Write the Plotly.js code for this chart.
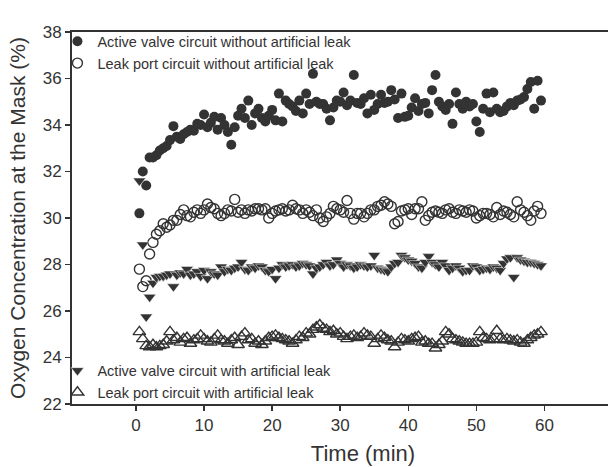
<!DOCTYPE html>
<html>
<head>
<meta charset="utf-8">
<script src="https://cdn.plot.ly/plotly-3.0.1.min.js"></script>
<style>
html, body { margin: 0; padding: 0; overflow: hidden; background: #fff; }
#chart { width: 654px; height: 467px; }
</style>
</head>
<body>
<div id="chart"></div>
<script>
// Time (min)
const times = [
  0.5, 1.0, 1.5, 2.0, 2.5, 3.0, 3.5, 4.0, 4.5, 5.0,
  5.5, 6.0, 6.5, 7.0, 7.5, 8.0, 8.5, 9.0, 9.5, 10.0,
  10.5, 11.0, 11.5, 12.0, 12.5, 13.0, 13.5, 14.0, 14.5, 15.0,
  15.5, 16.0, 16.5, 17.0, 17.5, 18.0, 18.5, 19.0, 19.5, 20.0,
  20.5, 21.0, 21.5, 22.0, 22.5, 23.0, 23.5, 24.0, 24.5, 25.0,
  25.5, 26.0, 26.5, 27.0, 27.5, 28.0, 28.5, 29.0, 29.5, 30.0,
  30.5, 31.0, 31.5, 32.0, 32.5, 33.0, 33.5, 34.0, 34.5, 35.0,
  35.5, 36.0, 36.5, 37.0, 37.5, 38.0, 38.5, 39.0, 39.5, 40.0,
  40.5, 41.0, 41.5, 42.0, 42.5, 43.0, 43.5, 44.0, 44.5, 45.0,
  45.5, 46.0, 46.5, 47.0, 47.5, 48.0, 48.5, 49.0, 49.5, 50.0,
  50.5, 51.0, 51.5, 52.0, 52.5, 53.0, 53.5, 54.0, 54.5, 55.0,
  55.5, 56.0, 56.5, 57.0, 57.5, 58.0, 58.5, 59.0, 59.5
];

// Active valve circuit without artificial leak
const activeNoLeak = [
  30.2, 32.0, 31.4, 32.6, 32.6, 32.7, 32.9, 33.0, 33.1, 33.35,
  33.95, 33.5, 33.4, 33.6, 33.7, 33.8, 33.75, 34.05, 34.0, 34.45,
  33.9, 34.1, 34.35, 33.8, 34.3, 34.0, 33.7, 33.15, 33.9, 34.4,
  34.7, 34.3, 35.05, 34.0, 34.5, 34.7, 34.3, 34.15, 34.4, 34.65,
  34.2, 35.35, 34.15, 35.05, 34.9, 34.8, 34.6, 35.05, 34.5, 35.35,
  34.9, 36.2, 35.0, 34.9, 34.9, 34.7, 34.2, 34.75, 35.05, 35.0,
  35.4, 34.85, 35.05, 36.15, 34.95, 34.9, 35.15, 34.5, 35.3, 34.65,
  34.9, 35.3, 34.95, 35.0, 35.5, 35.1, 34.3, 35.35, 34.35, 34.4,
  34.75, 35.15, 34.6, 34.9, 34.95, 34.5, 35.5, 36.15, 35.0, 34.8,
  34.65, 34.9, 34.05, 35.4, 34.9, 34.7, 35.0, 34.8, 34.9, 34.15,
  33.7, 34.7, 35.35, 34.55, 35.4, 34.7, 34.55, 34.6, 34.8, 34.95,
  34.85, 35.05, 35.1, 35.2, 35.55, 35.85, 34.7, 35.9, 35.05
];

// Leak port circuit without artificial leak
const portNoLeak = [
  27.8, 27.05, 27.3, 28.45, 28.95, 29.3, 29.45, 29.75, 29.6, 29.7,
  29.9, 29.9, 30.15, 30.35, 30.1, 30.05, 30.25, 30.35, 30.2, 30.35,
  30.6, 30.45, 30.4, 30.2, 30.1, 30.2, 30.35, 30.3, 30.8, 30.25,
  30.35, 30.2, 30.35, 30.3, 30.4, 30.4, 30.35, 30.4, 30.0, 30.2,
  30.3, 30.35, 30.4, 30.3, 30.35, 30.55, 30.4, 30.35, 30.2, 30.35,
  30.25, 30.1, 30.35, 30.0, 29.85, 30.05, 30.2, 30.5, 30.4, 30.35,
  30.25, 30.75, 30.2, 29.95, 30.2, 30.2, 30.05, 30.2, 30.35, 30.35,
  30.5, 30.55, 30.7, 30.6, 30.5, 29.75, 29.85, 30.3, 30.35, 30.4,
  30.15, 30.4, 30.4, 30.7, 29.9, 30.1, 30.25, 30.3, 30.25, 30.2,
  30.35, 30.4, 30.25, 30.2, 30.35, 30.3, 30.25, 30.35, 30.3, 30.0,
  30.1, 30.2, 30.2, 30.15, 30.05, 30.45, 30.15, 30.3, 30.25, 30.15,
  30.05, 30.7, 30.35, 30.25, 30.1, 29.9, 30.3, 30.5, 30.2
];

// Active valve circuit with artificial leak
const activeLeak = [
  31.6, 28.85, 25.75, 26.6, 27.2, 27.45, 27.5, 27.5, 27.55, 27.6,
  27.05, 27.55, 27.65, 27.6, 27.8, 27.55, 27.6, 27.7, 27.5, 27.75,
  27.4, 27.7, 27.6, 27.55, 27.9, 27.7, 27.8, 27.75, 27.85, 27.9,
  28.1, 27.8, 27.75, 27.9, 27.85, 27.95, 27.9, 27.75, 27.7, 27.8,
  27.4, 27.85, 28.0, 27.9, 27.95, 28.0, 27.9, 27.95, 28.05, 28.0,
  27.95, 27.6, 27.85, 27.9, 28.0, 28.1, 27.95, 28.0, 28.2, 28.05,
  27.9, 28.0, 27.95, 27.85, 27.9, 28.0, 27.95, 27.9, 27.95, 28.4,
  27.85, 27.8, 27.75, 27.7, 27.9, 28.05, 28.1, 28.4, 28.3, 28.2,
  28.15, 28.05, 27.9, 27.85, 28.1, 28.35, 28.1, 28.0, 27.9, 28.1,
  27.95, 27.75, 27.85, 27.95, 27.85, 27.7, 27.75, 27.75, 27.95, 27.9,
  27.75, 27.8, 27.85, 27.8, 27.9, 27.85, 27.75, 28.05, 28.25, 28.3,
  27.45, 28.3, 28.2, 28.15, 28.1, 28.1, 28.05, 28.0, 27.95
];

// Leak port circuit with artificial leak
const portLeak = [
  25.1, 24.8, 24.5, 24.45, 24.55, 24.45, 24.5, 24.55, 24.7, 25.1,
  24.75, 24.85, 24.65, 24.8, 24.85, 24.6, 24.75, 24.8, 24.95, 24.8,
  24.7, 24.65, 24.8, 24.95, 24.75, 24.7, 24.6, 24.75, 24.85, 24.55,
  24.9, 25.05, 24.75, 24.8, 24.6, 24.7, 24.55, 24.7, 24.85, 24.9,
  24.95, 24.85, 24.8, 24.75, 24.7, 24.6, 24.75, 24.9, 24.85, 25.05,
  25.0, 25.2, 25.3, 25.4, 25.25, 25.2, 25.1, 25.15, 25.0, 25.05,
  24.9, 24.8, 24.9, 24.95, 24.85, 24.9, 25.05, 24.95, 24.9, 24.6,
  24.8, 24.95, 24.85, 24.75, 24.7, 24.45, 24.65, 24.8, 24.75, 24.7,
  24.8, 24.85, 24.9, 24.65, 24.7, 24.6, 24.6, 24.4, 24.55, 24.7,
  25.1, 25.0, 24.8, 24.75, 24.7, 24.65, 24.6, 24.6, 24.6, 24.65,
  25.1, 24.85, 24.8, 24.75, 24.8, 25.15, 24.8, 24.75, 24.8, 24.75,
  24.7, 24.75, 24.65, 24.6, 24.75, 24.85, 24.95, 25.0, 25.1
];

const seriesNames = [
  'Active valve circuit without artificial leak',
  'Leak port circuit without artificial leak',
  'Active valve circuit with artificial leak',
  'Leak port circuit with artificial leak'
];
const xTicks = [0, 10, 20, 30, 40, 50, 60];
const yTicks = [22, 24, 26, 28, 30, 32, 34, 36, 38];
const xTitle = 'Time (min)';
const yTitle = 'Oxygen Concentration at the Mask (%)';

const ink = '#333333';
const fontFam = 'Liberation Sans, Arial, Helvetica, sans-serif';

const traces = [
  { x: times, y: activeNoLeak, name: seriesNames[0], type: 'scatter', mode: 'markers',
    marker: { symbol: 'circle', size: 10, color: ink, line: { width: 0 } }, legend: 'legend' },
  { x: times, y: portNoLeak, name: seriesNames[1], type: 'scatter', mode: 'markers',
    marker: { symbol: 'circle-open', size: 10, color: ink, line: { width: 1.4, color: ink } }, legend: 'legend' },
  { x: times, y: activeLeak, name: seriesNames[2], type: 'scatter', mode: 'markers',
    marker: { symbol: 'triangle-down', size: 11, color: ink, line: { width: 0.5, color: '#ffffff' } }, legend: 'legend2' },
  { x: times, y: portLeak, name: seriesNames[3], type: 'scatter', mode: 'markers',
    marker: { symbol: 'triangle-up-open', size: 11, color: ink, line: { width: 1.4, color: ink } }, legend: 'legend2' }
];

const layout = {
  width: 654, height: 467,
  margin: { l: 72, r: 0, t: 32, b: 63 },
  paper_bgcolor: '#ffffff', plot_bgcolor: '#ffffff',
  font: { family: fontFam, color: ink },
  showlegend: true,
  xaxis: {
    range: [-9.4, 76.1], tickmode: 'array', tickvals: xTicks,
    showgrid: false, zeroline: false,
    showline: true, linecolor: ink, linewidth: 2, mirror: true,
    ticks: 'outside', ticklen: 5, tickwidth: 1.5, tickcolor: ink,
    tickfont: { size: 17, color: ink, family: fontFam },
    title: { text: xTitle, font: { size: 22, color: ink, family: fontFam }, standoff: 11 },
    automargin: false
  },
  yaxis: {
    range: [22, 38], tickmode: 'array', tickvals: yTicks,
    showgrid: false, zeroline: false,
    showline: true, linecolor: ink, linewidth: 2, mirror: false,
    ticks: 'outside', ticklen: 5, tickwidth: 1.5, tickcolor: ink,
    tickfont: { size: 17, color: ink, family: fontFam },
    title: { text: yTitle, font: { size: 21, color: ink, family: fontFam }, standoff: 11 },
    automargin: false
  },
  legend: {
    x: -0.025, y: 1.018, xanchor: 'left', yanchor: 'top',
    bgcolor: 'rgba(0,0,0,0)', borderwidth: 0,
    font: { size: 14.5, color: ink, family: fontFam },
    tracegroupgap: 0
  },
  legend2: {
    x: -0.025, y: -0.012, xanchor: 'left', yanchor: 'bottom',
    bgcolor: 'rgba(0,0,0,0)', borderwidth: 0,
    font: { size: 14.5, color: ink, family: fontFam },
    tracegroupgap: 0
  }
};

Plotly.newPlot('chart', traces, layout, { displayModeBar: false, staticPlot: true });
</script>
</body>
</html>
